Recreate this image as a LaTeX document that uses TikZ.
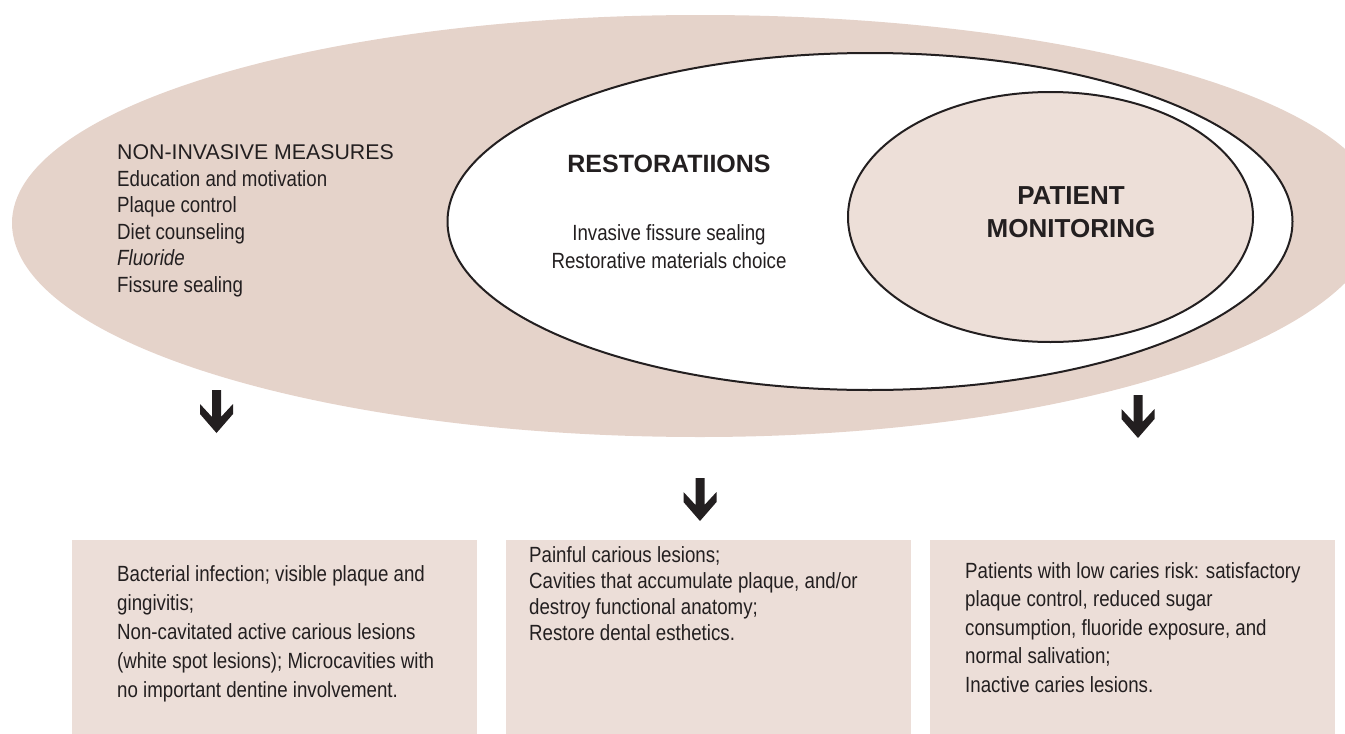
\documentclass[tikz,border=0pt]{standalone}
\usepackage{fontspec}
\setmainfont{Liberation Sans}[FakeStretch=0.85]
\newfontfamily\widefont{Liberation Sans}
\definecolor{outerfill}{RGB}{229,211,202}
\definecolor{innerfill}{RGB}{237,223,216}
\definecolor{boxfill}{RGB}{236,222,216}
\definecolor{ink}{RGB}{35,31,32}
\tikzset{
  ring/.style={draw=ink, line width=2pt},
  bodytext/.style={font=\fontsize{22}{26.5}\selectfont, inner sep=0pt, align=left, anchor=north west, text=ink},
  boxtext/.style={font=\fontsize{22}{29}\selectfont, inner sep=0pt, align=left, anchor=north west, text=ink},
  titletext/.style={font=\widefont\bfseries\fontsize{25}{30}\selectfont, inner sep=0pt, text=ink},
  panel/.style={fill=boxfill, draw=none},
  darrow/.pic={\fill[ink] (-4.5,0) -- (4.5,0) -- (4.5,27) -- (16.5,14) -- (16.5,24) -- (0,43) -- (-16.5,24) -- (-16.5,14) -- (-4.5,27) -- cycle;}
}
\begin{document}
\begin{tikzpicture}[x=1pt,y=-1pt]
\useasboundingbox (0,0) rectangle (1345,734);
\clip (0,0) rectangle (1345,734);
% outer egg
\fill[outerfill] (12,223) .. controls (12,108) and (320,15) .. (700,15)
  .. controls (1076,15) and (1380,102) .. (1380,212)
  .. controls (1380,335) and (1076,437) .. (700,437)
  .. controls (320,437) and (12,341) .. (12,223) -- cycle;
% restorations ellipse
\draw[ring, fill=white] (870,221.5) ellipse [x radius=422.5pt, y radius=168.5pt];
% patient monitoring ellipse
\draw[ring, fill=innerfill] (1050.5,217) ellipse [x radius=202.5pt, y radius=125pt];

% texts in ellipses
\node[inner sep=0pt, anchor=north west, text=ink, font=\widefont\fontsize{21.3}{26}\selectfont] (nimt) at (117,144.5) {NON-INVASIVE MEASURES};
\node[bodytext] (nilist) at (117,170) {Education and motivation\\Plaque control\\Diet counseling\\\textit{Fluoride}\\Fissure sealing};
\node[titletext] (rest) at (669,164) {RESTORATIIONS};
\node[bodytext, align=center, anchor=north, font=\fontsize{22}{28}\selectfont] (restlist) at (669,224) {Invasive fissure sealing\\Restorative materials choice};
\node[titletext, align=center, anchor=north, font=\widefont\bfseries\fontsize{26}{33}\selectfont] (pm) at (1071,186) {PATIENT\\MONITORING};

% arrows
\pic (a1) at (216.5,390) {darrow};
\pic (a2) at (700,478) {darrow};
\pic (a3) at (1138,395) {darrow};

% panels
\fill[panel] (72,540) rectangle (477,740);
\fill[panel] (506,540) rectangle (911,740);
\fill[panel] (930,540) rectangle (1335,740);

\node[boxtext] (b1) at (117,565) {Bacterial infection; visible plaque and\\gingivitis;\\Non-cavitated active carious lesions\\(white spot lesions); Microcavities with\\no important dentine involvement.};
\node[boxtext, font=\fontsize{22}{26}\selectfont] (b2) at (529,546) {Painful carious lesions;\\Cavities that accumulate plaque, and/or\\destroy functional anatomy;\\Restore dental esthetics.};
\node[boxtext, font=\fontsize{22}{28.5}\selectfont] (b3) at (965,562) {Patients with low caries risk: satisfactory\\plaque control, reduced sugar\\consumption, fluoride exposure, and\\normal salivation;\\Inactive caries lesions.};
\end{tikzpicture}
\end{document}
